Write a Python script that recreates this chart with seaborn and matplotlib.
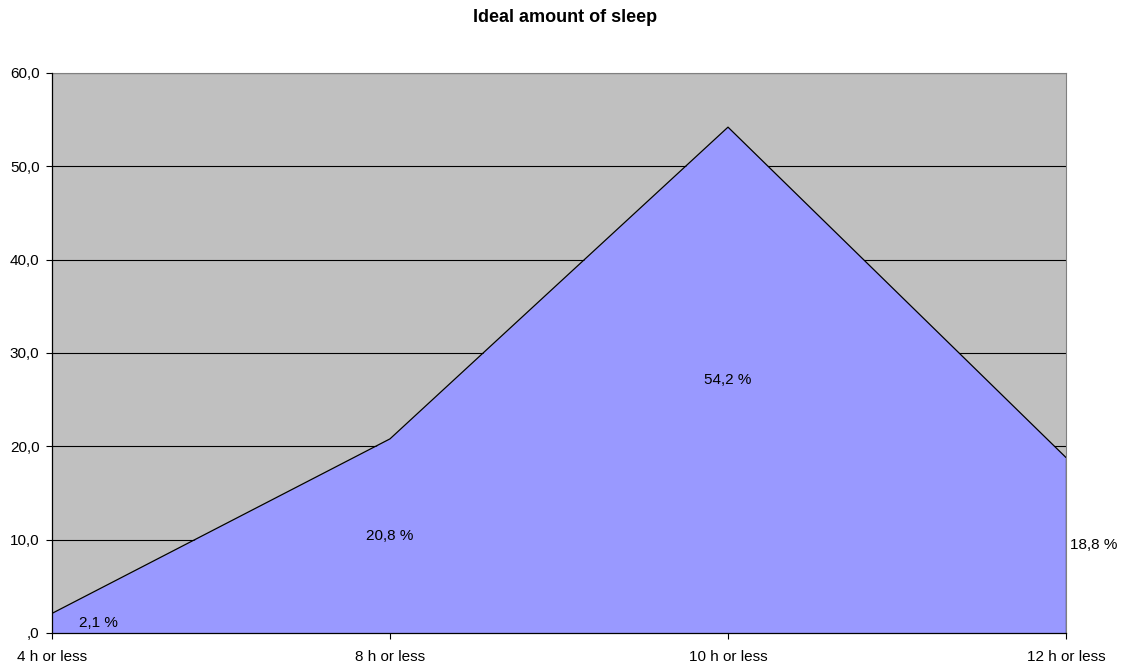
import matplotlib
matplotlib.use("Agg")
import matplotlib.pyplot as plt
import seaborn as sns
import pandas as pd
import numpy as np
from matplotlib.ticker import FuncFormatter, MultipleLocator

categories = ["4 h or less", "8 h or less", "10 h or less", "12 h or less"]
values = [2.1, 20.8, 54.2, 18.8]
title = "Ideal amount of sleep"

sns.set_style("white")
plt.rcParams['font.family'] = ['Liberation Sans', 'DejaVu Sans']
plt.rcParams['text.color'] = 'black'
plt.rcParams['xtick.color'] = 'black'
plt.rcParams['ytick.color'] = 'black'

df = pd.DataFrame({"pos": np.arange(len(categories)), "value": values, "cat": categories})

fig = plt.figure(figsize=(11.31, 6.66), dpi=100)
ax = fig.add_axes([52/1131, 1-633/666, (1066-52)/1131, (633-73)/666])
ax.set_facecolor("#C0C0C0")

ax.set_ylim(0, 60)
ax.set_xlim(0, len(categories)-1)
ax.yaxis.set_major_locator(MultipleLocator(10))
ax.grid(axis="y", color="black", linewidth=0.8, zorder=1)
ax.set_axisbelow(True)

ax.fill_between(df["pos"], df["value"], 0, color="#9999FF", zorder=2, linewidth=0)
sns.lineplot(data=df, x="pos", y="value", ax=ax, color="black", linewidth=0.9, zorder=3)
ax.plot([df["pos"].iloc[-1]]*2, [0, values[-1]], color="black", linewidth=0.9, zorder=3)

def fmt(v, _):
    s = f"{v:.1f}".replace(".", ",")
    if s.startswith("0,"):
        s = s[1:]
    return s
ax.yaxis.set_major_formatter(FuncFormatter(fmt))
ax.set_xticks(df["pos"])
ax.set_xticklabels(categories)
ax.set_xlabel("")
ax.set_ylabel("")
ax.tick_params(axis="both", direction="out", length=4, width=0.8, color="black",
               labelcolor="black", labelsize=11, pad=5, left=True, bottom=True)
ax.tick_params(axis="x", pad=8)

for side in ["top", "right"]:
    ax.spines[side].set_color("#808080")
    ax.spines[side].set_linewidth(0.8)
for side in ["left", "bottom"]:
    ax.spines[side].set_color("black")
    ax.spines[side].set_linewidth(0.9)
    ax.spines[side].set_zorder(4)

n = len(values)
for i, v in enumerate(values):
    lab = f"{v:.1f}".replace(".", ",") + " %"
    if i == 0:
        ax.annotate(lab, (i, v/2), xytext=(46, 0), textcoords="offset pixels",
                    ha="center", va="center", fontsize=11, zorder=5, color="black")
    elif i == n-1:
        ax.annotate(lab, (i, v/2), xytext=(4, 0), textcoords="offset pixels",
                    ha="left", va="center", fontsize=11, zorder=5, color="black",
                    annotation_clip=False)
    else:
        ax.text(i, v/2, lab, ha="center", va="center", fontsize=11, zorder=5, color="black")

fig.text(0.5, 1-18/666, title, ha="center", va="center", fontsize=13,
         fontweight="bold", color="black")

fig.savefig("out.png", dpi=100)
